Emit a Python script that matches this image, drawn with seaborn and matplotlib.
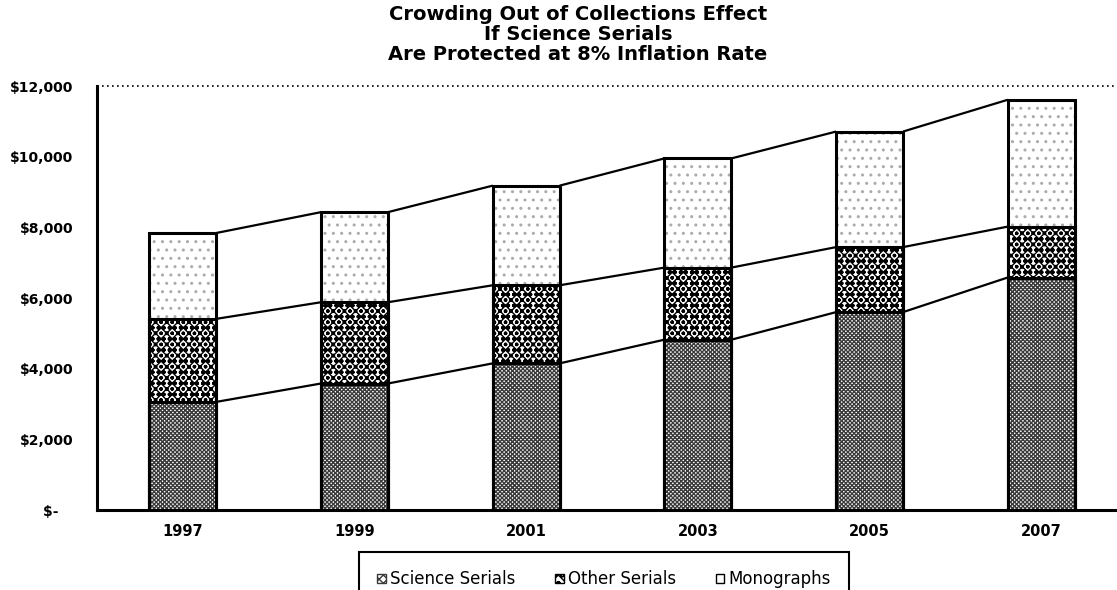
import matplotlib
matplotlib.use("Agg")
import matplotlib.pyplot as plt
import seaborn as sns
import pandas as pd
import numpy as np
from matplotlib.patches import Patch

# Budget components by year
years = ["1997", "1999", "2001", "2003", "2005", "2007"]
science_serials = [3060, 3580, 4150, 4820, 5600, 6580]
other_serials = [2350, 2300, 2210, 2040, 1840, 1440]
monographs = [2430, 2550, 2820, 3090, 3270, 3590]

series_names = ["Science Serials", "Other Serials", "Monographs"]
y_ticks = [0, 2000, 4000, 6000, 8000, 10000, 12000]
y_tick_labels = ["$-   ", "$2,000", "$4,000", "$6,000", "$8,000", "$10,000", "$12,000"]
title_text = ("Crowding Out of Collections Effect\nIf Science Serials\n"
              "Are Protected at 8% Inflation Rate")

sns.set_theme(style="white")
plt.rcParams["font.family"] = ["DejaVu Sans"]
plt.rcParams["text.color"] = "black"
plt.rcParams["xtick.color"] = "black"
plt.rcParams["ytick.color"] = "black"
plt.rcParams["hatch.linewidth"] = 1.0

df = pd.DataFrame({
    "year": years,
    "science": science_serials,
    "other": other_serials,
    "mono": monographs,
})
df["lvl1"] = df["science"]
df["lvl2"] = df["science"] + df["other"]
df["lvl3"] = df["lvl2"] + df["mono"]

fig = plt.figure(figsize=(11.17, 5.90), dpi=100)
W, H = 1117, 590
ax = fig.add_axes([97 / W, 80 / H, 1030 / W, 424 / H])

bar_w = 0.39
hatch_science = "xxxxxxxx"
hatch_other = "xxxooo"
hatch_mono = ".."
# stacked layers: drawn from the tallest cumulative level down
layers = [
    ("lvl3", hatch_mono, "#ababab"),
    ("lvl2", hatch_other, "black"),
    ("lvl1", hatch_science, "#3a3a3a"),
]
for col, hatch, hcol in layers:
    # hatched fill
    sns.barplot(data=df, x="year", y=col, ax=ax, color="white", width=bar_w,
                hatch=hatch, edgecolor=hcol, linewidth=0, saturation=1)
    # black outline on top
    sns.barplot(data=df, x="year", y=col, ax=ax, fill=False, color="black",
                width=bar_w, linewidth=2.2, saturation=1)

# series lines joining the tops of adjacent segments
pos = np.arange(len(years))
for col in ["lvl1", "lvl2", "lvl3"]:
    vals = df[col].to_numpy()
    for i in range(len(years) - 1):
        ax.plot([pos[i] + bar_w / 2, pos[i + 1] - bar_w / 2],
                [vals[i], vals[i + 1]], color="black", lw=1.6,
                solid_capstyle="butt", zorder=1)

ax.set_xlim(-0.5, len(years) - 0.5)
ax.set_ylim(0, 12000)
ax.set_yticks(y_ticks)
ax.set_yticklabels(y_tick_labels, fontsize=10, fontweight="bold")
ax.set_xticks(pos)
ax.set_xticklabels(years, fontsize=10.5, fontweight="bold")
ax.set_xlabel("")
ax.set_ylabel("")

# category boundary ticks on x axis
ax.set_xticks(np.arange(-0.5, len(years), 1.0), minor=True)
ax.tick_params(axis="x", which="major", length=0, pad=10)
ax.tick_params(axis="x", which="minor", direction="inout", length=8, width=1.5,
               color="black")
ax.tick_params(axis="y", direction="inout", length=8, width=1.5, color="black",
               pad=13)

for s in ["top", "right"]:
    ax.spines[s].set_visible(False)
for s in ["left", "bottom"]:
    ax.spines[s].set_color("black")
    ax.spines[s].set_linewidth(2.2)

# dotted line along the top of the plot area
ax.axhline(12000, color="black", lw=1.2, ls=(0, (1, 2)), clip_on=False)

fig.text(578 / W, 1 - 5 / H, title_text, ha="center", va="top", fontsize=14,
         fontweight="bold", linespacing=1.05)

leg_handles = [
    Patch(facecolor="white", edgecolor="#3a3a3a", hatch="xxxx", label=series_names[0]),
    Patch(facecolor="white", edgecolor="black", hatch="xxoo", label=series_names[1]),
    Patch(facecolor="white", edgecolor="black", hatch="", label=series_names[2]),
]
leg = fig.legend(handles=leg_handles, loc="upper center",
                 bbox_to_anchor=(604 / W, 1 - 552 / H), ncol=3, frameon=True,
                 fancybox=False, edgecolor="black", framealpha=1.0, fontsize=12,
                 handlelength=0.5, handleheight=0.5, handletextpad=0.25,
                 columnspacing=2.4, borderpad=1.1, borderaxespad=0)
leg.get_frame().set_linewidth(1.5)
leg.get_frame().set_edgecolor("black")

fig.savefig("out.png", dpi=100, facecolor="white")
